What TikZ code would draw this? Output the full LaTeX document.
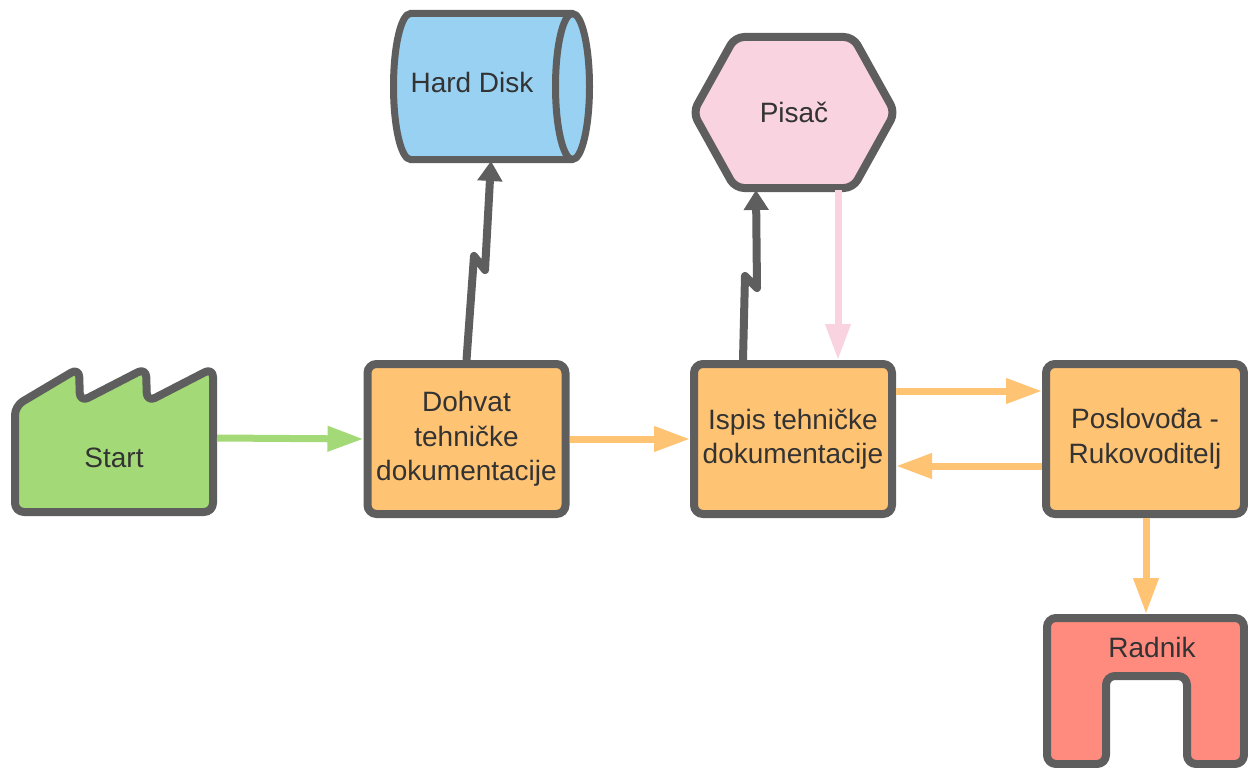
\documentclass[tikz,border=0pt]{standalone}
\usepackage{fontspec}
\setmainfont{Liberation Sans}
\usetikzlibrary{arrows.meta,calc}

\definecolor{edgegray}{HTML}{5E5E5E}
\definecolor{textgray}{HTML}{333333}
\definecolor{boxorange}{HTML}{FFC374}
\definecolor{startgreen}{HTML}{A3D977}
\definecolor{diskblue}{HTML}{99D1F3}
\definecolor{printpink}{HTML}{F9D3E0}
\definecolor{workerred}{HTML}{FF8B7F}

\begin{document}
\begin{tikzpicture}[x=1pt, y=-1pt,
    every node/.style={font=\fontsize{28}{34.5}\selectfont, text=textgray, align=center},
    box/.style={draw=edgegray, line width=8pt, fill=boxorange, rounded corners=9pt,
      minimum width=198pt, minimum height=150pt},
    outline/.style={draw=edgegray, line width=8pt, rounded corners=9pt, line join=round},
    flow/.style={line width=7pt, -{Triangle[length=36pt, width=24pt]}},
    bolt/.style={draw=edgegray, line width=8pt, line join=round,
      -{Triangle[length=20pt, width=24pt]}}
  ]
  \useasboundingbox (0,0) rectangle (1248,768);

  % Start (factory)
  \draw[outline, fill=startgreen] (15,406) -- (79,368) -- (80,402) -- (146,368) -- (147,402)
    -- (213,368) -- (213,512) -- (15,512) -- cycle;
  \node (start) at (114,458) {Start};
  \coordinate (startout) at (217,438);

  % Process boxes
  \node[box] (dohvat) at (466.5,439) {Dohvat\\tehničke\\dokumentacije};
  \node[box] (ispis) at (793,439) {Ispis tehničke\\dokumentacije};
  \node[box] (poslovodja) at (1145,439) {Poslovođa -\\Rukovoditelj};

  % Hard disk
  \draw[draw=edgegray, line width=7pt, fill=diskblue] (572.5,13.5) -- (410.5,13.5)
    arc[start angle=270, end angle=90, x radius=17, y radius=73] -- (572.5,159.5)
    arc[start angle=90, end angle=-90, x radius=17, y radius=73] -- cycle;
  \draw[edgegray, line width=7pt] (572.5,13.5)
    arc[start angle=270, end angle=90, x radius=17, y radius=73];
  \node (disk) at (472,82) {Hard Disk};
  \coordinate (diskin) at (491,161);

  % Printer
  \draw[outline, fill=printpink] (693,112.5) -- (735,37) -- (853,37) -- (895,112.5)
    -- (853,188) -- (735,188) -- cycle;
  \node[minimum width=202pt, minimum height=155pt, outer sep=0pt] (pisac) at (794,112.5) {Pisač};

  % Worker
  \draw[outline, fill=workerred] (1106,764) -- (1047,764) -- (1047,618) -- (1244,618)
    -- (1244,764) -- (1187,764) -- (1187,676) -- (1106,676) -- cycle;
  \node (radnik) at (1152,647) {Radnik};
  \coordinate (radnikin) at (1146,614);

  % Connectors
  \draw[flow, startgreen] (startout) -- (dohvat.west);
  \draw[flow, boxorange] (dohvat.east) -- (ispis.west);
  \draw[flow, boxorange] ($(ispis.east)+(0,-48)$) -- ($(poslovodja.west)+(0,-48)$);
  \draw[flow, boxorange] ($(poslovodja.west)+(0,27)$) -- ($(ispis.east)+(0,27)$);
  \draw[flow, boxorange] ($(poslovodja.south)+(1,0)$) -- (radnikin);
  \draw[flow, printpink] ($(pisac.south)+(44,0)$) -- ($(ispis.north)+(45,0)$);
  \draw[bolt] (dohvat.north) -- (474,256) -- (485,270) -- (diskin);
  \draw[bolt] ($(ispis.north)+(-50,0)$) -- (745,276) -- (757,288) -- ($(pisac.south)+(-38,0)$);
\end{tikzpicture}
\end{document}
